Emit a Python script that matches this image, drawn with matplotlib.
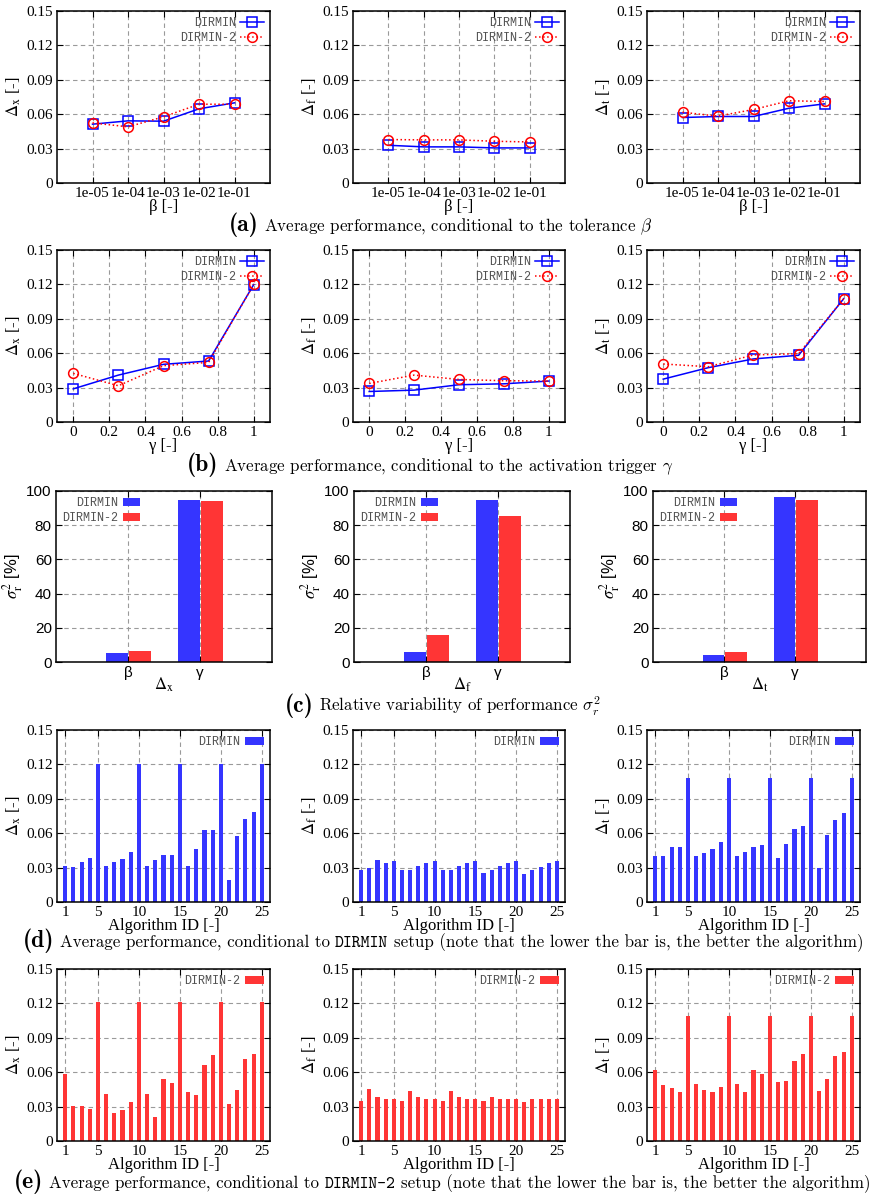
import numpy as np
import matplotlib
matplotlib.use("Agg")
import matplotlib.pyplot as plt
from matplotlib.offsetbox import TextArea, HPacker, AnchoredOffsetbox

# ---- data ----
beta_labels = ['1e-05', '1e-04', '1e-03', '1e-02', '1e-01']
gamma_vals = [0, 0.25, 0.5, 0.75, 1]
gamma_ticks = [0, 0.2, 0.4, 0.6, 0.8, 1]
gamma_tick_labels = ['0', '0.2', '0.4', '0.6', '0.8', '1']
delta_ticks = [0, 0.03, 0.06, 0.09, 0.12, 0.15]
delta_tick_labels = ['0', '0.03', '0.06', '0.09', '0.12', '0.15']

dx_beta_dirmin = [0.0513, 0.0542, 0.0539, 0.0647, 0.0699]
dx_beta_dirmin2 = [0.0524, 0.0490, 0.0577, 0.0687, 0.0687]
df_beta_dirmin = [0.0329, 0.0315, 0.0315, 0.0306, 0.0306]
df_beta_dirmin2 = [0.0379, 0.0376, 0.0376, 0.0364, 0.0358]
dt_beta_dirmin = [0.0571, 0.0580, 0.0580, 0.0652, 0.0690]
dt_beta_dirmin2 = [0.0617, 0.0583, 0.0641, 0.0717, 0.0711]

dx_gamma_dirmin = [0.0289, 0.0409, 0.0503, 0.0532, 0.1199]
dx_gamma_dirmin2 = [0.0424, 0.0316, 0.0491, 0.0520, 0.1200]
df_gamma_dirmin = [0.0266, 0.0278, 0.0325, 0.0333, 0.0357]
df_gamma_dirmin2 = [0.0336, 0.0409, 0.0371, 0.0360, 0.0357]
dt_gamma_dirmin = [0.0374, 0.0474, 0.0550, 0.0582, 0.1076]
dt_gamma_dirmin2 = [0.0506, 0.0482, 0.0585, 0.0596, 0.1076]

var_params = ['β', 'γ']
var_ticks = [0, 20, 40, 60, 80, 100]
var_dx_dirmin = [5.1, 94.9]
var_dx_dirmin2 = [6.2, 94.0]
var_df_dirmin = [5.7, 94.9]
var_df_dirmin2 = [15.8, 85.2]
var_dt_dirmin = [3.9, 96.3]
var_dt_dirmin2 = [5.7, 94.5]

algo_ids = list(range(1, 26))
algo_ticks = [1, 5, 10, 15, 20, 25]
dx_algo_dirmin = [0.0316, 0.0307, 0.0351, 0.0386, 0.1202, 0.0316, 0.0351, 0.0377, 0.0439, 0.1202,
                  0.0316, 0.0368, 0.0412, 0.0412, 0.1202, 0.0316, 0.0465, 0.0632, 0.0632, 0.1202,
                  0.0193, 0.0579, 0.0728, 0.0781, 0.1202]
df_algo_dirmin = [0.0281, 0.0298, 0.0368, 0.0342, 0.0360, 0.0281, 0.0281, 0.0316, 0.0342, 0.0360,
                  0.0281, 0.0281, 0.0316, 0.0342, 0.0360, 0.0254, 0.0281, 0.0316, 0.0342, 0.0360,
                  0.0246, 0.0281, 0.0307, 0.0342, 0.0360]
dt_algo_dirmin = [0.0404, 0.0404, 0.0482, 0.0482, 0.1079, 0.0404, 0.0430, 0.0465, 0.0526, 0.1079,
                  0.0404, 0.0439, 0.0482, 0.0500, 0.1079, 0.0386, 0.0509, 0.0640, 0.0667, 0.1079,
                  0.0298, 0.0588, 0.0711, 0.0772, 0.1079]
dx_algo_dirmin2 = [0.0588, 0.0301, 0.0301, 0.0281, 0.1208, 0.0412, 0.0246, 0.0272, 0.0342, 0.1208,
                   0.0412, 0.0210, 0.0544, 0.0509, 0.1208, 0.0430, 0.0404, 0.0667, 0.0746, 0.1208,
                   0.0325, 0.0447, 0.0711, 0.0763, 0.1208]
df_algo_dirmin2 = [0.0351, 0.0456, 0.0386, 0.0368, 0.0368, 0.0351, 0.0439, 0.0386, 0.0368, 0.0368,
                   0.0351, 0.0439, 0.0386, 0.0368, 0.0368, 0.0351, 0.0386, 0.0368, 0.0368, 0.0368,
                   0.0342, 0.0368, 0.0368, 0.0368, 0.0368]
dt_algo_dirmin2 = [0.0623, 0.0491, 0.0465, 0.0430, 0.1088, 0.0500, 0.0447, 0.0430, 0.0474, 0.1088,
                   0.0500, 0.0430, 0.0623, 0.0588, 0.1088, 0.0518, 0.0526, 0.0702, 0.0763, 0.1088,
                   0.0439, 0.0544, 0.0737, 0.0772, 0.1088]

W, H = 884, 1197
BLUE_LINE = '#0000ff'
RED_LINE = '#ff0000'
BLUE_BAR = '#3535ff'
RED_BAR = '#ff3535'
SERIF = ['Liberation Serif', 'DejaVu Serif']
NARROW = ['Liberation Sans Narrow', 'Liberation Sans', 'DejaVu Sans']
MONO = ['Liberation Mono', 'DejaVu Sans Mono']

plt.rcParams['mathtext.fontset'] = 'stix'
fig = plt.figure(figsize=(W / 100, H / 100), dpi=100)


def px_axes(x0, y0, x1, y1):
    return fig.add_axes([x0 / W, 1 - y1 / H, (x1 - x0) / W, (y1 - y0) / H])


def style(ax, family=SERIF):
    ax.tick_params(direction='in', top=True, right=True, length=4, width=0.8, labelsize=11, pad=3)
    for lab in ax.get_xticklabels() + ax.get_yticklabels():
        lab.set_family(family)
    ax.grid(True, color='#9a9a9a', linestyle=(0, (4, 3)), linewidth=0.8)
    ax.set_axisbelow(True)
    for s in ax.spines.values():
        s.set_linewidth(1.1)


def legend(ax, loc, handlelength=2.0):
    leg = ax.legend(loc=loc, frameon=False, markerfirst=False, handlelength=handlelength,
                    handletextpad=0.4, labelspacing=0.25, borderaxespad=0.2, borderpad=0.3,
                    prop={'family': MONO, 'size': 8.5})
    for t in leg.get_texts():
        t.set_color('#505050')


def line_panel(ax, x, y1, y2, ylab, xlab):
    ax.plot(x, y1, '-', color=BLUE_LINE, lw=1.1, marker='s', ms=7, mfc='none', mew=1.1, label='DIRMIN')
    ax.plot(x, y2, ':', color=RED_LINE, lw=1.1, marker='o', ms=7, mfc='none', mew=1.1, label='DIRMIN-2')
    ax.set_ylim(0, 0.15)
    ax.set_yticks(delta_ticks, delta_tick_labels)
    ax.set_ylabel(ylab, fontsize=12, family=SERIF, labelpad=2)
    ax.set_xlabel(xlab, fontsize=12, family=SERIF, labelpad=-1)
    legend(ax, 'upper right')


def var_panel(ax, v1, v2, xlab):
    pos = np.arange(1, len(var_params) + 1)
    ax.bar(pos, v1, width=-0.3, align='edge', color=BLUE_BAR, label='DIRMIN')
    ax.bar(pos + 0.02, v2, width=0.3, align='edge', color=RED_BAR, label='DIRMIN-2')
    ax.set_xlim(0, 3)
    ax.set_ylim(0, 100)
    ax.set_xticks(pos, var_params)
    ax.set_yticks(var_ticks)
    ax.set_ylabel(r'$\sigma^2_{\rm r}$ [%]', fontsize=12, family=NARROW, labelpad=1)
    ax.set_xlabel(xlab, fontsize=12, family=NARROW, labelpad=-3)
    style(ax, NARROW)
    legend(ax, 'upper left', handlelength=1.5)


def algo_panel(ax, vals, color, name, ylab):
    ax.bar(algo_ids, vals, width=0.5, color=color, label=name)
    ax.set_xlim(0, 26)
    ax.set_ylim(0, 0.15)
    ax.set_xticks(algo_ticks)
    ax.set_yticks(delta_ticks, delta_tick_labels)
    ax.set_ylabel(ylab, fontsize=12, family=SERIF, labelpad=2)
    ax.set_xlabel('Algorithm ID [-]', fontsize=12, family=SERIF, labelpad=-1)
    style(ax)
    legend(ax, 'upper right', handlelength=1.6)


def caption(xc, yc, parts):
    boxes = [TextArea(t, textprops=p) for t, p in parts]
    pack = HPacker(children=boxes, align='baseline', pad=0, sep=4)
    ab = AnchoredOffsetbox(loc='center', child=pack, frameon=False, pad=0, borderpad=0,
                           bbox_to_anchor=(xc / W, 1 - yc / H), bbox_transform=fig.transFigure)
    fig.add_artist(ab)


cols = [(57, 270), (353, 565), (647, 860)]
ylabs = [r'$\Delta_{\rm x}$ [-]', r'$\Delta_{\rm f}$ [-]', r'$\Delta_{\rm t}$ [-]']

# (a) tolerance beta
beta_data = [(dx_beta_dirmin, dx_beta_dirmin2), (df_beta_dirmin, df_beta_dirmin2),
             (dt_beta_dirmin, dt_beta_dirmin2)]
for (x0, x1), (d1, d2), yl in zip(cols, beta_data, ylabs):
    ax = px_axes(x0, 11, x1, 183)
    pos = np.arange(1, len(beta_labels) + 1)
    line_panel(ax, pos, d1, d2, yl, 'β [-]')
    ax.set_xlim(0, 6)
    ax.set_xticks(pos, beta_labels)
    style(ax)

# (b) activation trigger gamma
gamma_data = [(dx_gamma_dirmin, dx_gamma_dirmin2), (df_gamma_dirmin, df_gamma_dirmin2),
              (dt_gamma_dirmin, dt_gamma_dirmin2)]
for (x0, x1), (d1, d2), yl in zip(cols, gamma_data, ylabs):
    ax = px_axes(x0, 250, x1, 422)
    line_panel(ax, gamma_vals, d1, d2, yl, 'γ [-]')
    ax.set_xlim(-0.09, 1.09)
    ax.set_xticks(gamma_ticks, gamma_tick_labels)
    style(ax)

# (c) relative variability
var_data = [(var_dx_dirmin, var_dx_dirmin2), (var_df_dirmin, var_df_dirmin2),
            (var_dt_dirmin, var_dt_dirmin2)]
xl_c = [r'$\Delta_{\rm x}$', r'$\Delta_{\rm f}$', r'$\Delta_{\rm t}$']
cols_c = [(56, 272), (354, 570), (653, 866)]
for (x0, x1), (d1, d2), xl in zip(cols_c, var_data, xl_c):
    ax = px_axes(x0, 491, x1, 662)
    var_panel(ax, d1, d2, xl)

# (d) DIRMIN setups
for (x0, x1), vals, yl in zip(cols, [dx_algo_dirmin, df_algo_dirmin, dt_algo_dirmin], ylabs):
    ax = px_axes(x0, 730, x1, 902)
    algo_panel(ax, vals, BLUE_BAR, 'DIRMIN', yl)

# (e) DIRMIN-2 setups
for (x0, x1), vals, yl in zip(cols, [dx_algo_dirmin2, df_algo_dirmin2, dt_algo_dirmin2], ylabs):
    ax = px_axes(x0, 969, x1, 1141)
    algo_panel(ax, vals, RED_BAR, 'DIRMIN-2', yl)

bold = {'family': 'cmb10', 'size': 17}
rm = {'family': 'cmr10', 'size': 12.2, 'math_fontfamily': 'cm'}
tt = {'family': 'cmtt10', 'size': 12.2}
caption(441, 225, [('(a)', bold), (r'Average performance, conditional to the tolerance $\beta$', rm)])
caption(430, 465, [('(b)', bold), (r'Average performance, conditional to the activation trigger $\gamma$', rm)])
caption(443, 706, [('(c)', bold), (r'Relative variability of performance $\sigma_r^2$', rm)])
caption(443, 941, [('(d)', bold), ('Average performance, conditional to', rm), ('DIRMIN', tt),
                   ('setup (note that the lower the bar is, the better the algorithm)', rm)])
caption(442, 1182, [('(e)', bold), ('Average performance, conditional to', rm), ('DIRMIN-2', tt),
                    ('setup (note that the lower the bar is, the better the algorithm)', rm)])

fig.savefig('out.png', dpi=100)
